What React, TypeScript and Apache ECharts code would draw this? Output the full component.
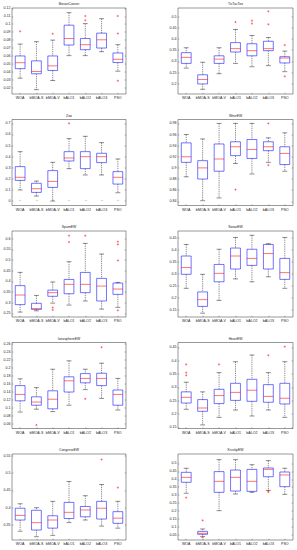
import React, { useEffect, useRef } from "react";
import * as echarts from "echarts";

const categories = ["WOA", "bMOA-S", "bMOA-V", "bALO1", "bALO2", "bALO3", "PSO"];
const titles = ["BreastCancer", "TicTacToe", "Zoo", "WineEW", "SpamEW", "SonarEW", "IonosphereEW", "HeartEW", "CongressEW", "KrvskpEW"];

// boxes: [whiskerLow, q1, median, q3, whiskerHigh] per category
const breastBoxes = [
  [0.032, 0.044, 0.0515, 0.06, 0.075],
  [0.0175, 0.0375, 0.0404, 0.0538, 0.078],
  [0.029, 0.0417, 0.0475, 0.06, 0.08],
  [0.0604, 0.0738, 0.082, 0.0988, 0.1146],
  [0.0604, 0.0679, 0.0742, 0.082, 0.1008],
  [0.0654, 0.07, 0.0804, 0.0888, 0.107],
  [0.0408, 0.0517, 0.0558, 0.0638, 0.0742],
];
const breastOutliers = [[0, 0.091], [2, 0.088], [4, 0.1104], [4, 0.105], [6, 0.1104], [6, 0.0883], [6, 0.0287]];
const breastTicks = [0.02, 0.03, 0.04, 0.05, 0.06, 0.07, 0.08, 0.09, 0.1, 0.11, 0.12];
const breastRange = [0.012, 0.1205];

const ticTacBoxes = [
  [0.27, 0.291, 0.318, 0.339, 0.361],
  [0.175, 0.199, 0.219, 0.24, 0.296],
  [0.245, 0.291, 0.31, 0.325, 0.361],
  [0.291, 0.342, 0.357, 0.384, 0.443],
  [0.276, 0.325, 0.348, 0.379, 0.416],
  [0.281, 0.348, 0.357, 0.39, 0.407],
  [0.254, 0.293, 0.315, 0.321, 0.346],
];
const ticTacOutliers = [[3, 0.476], [4, 0.482], [4, 0.469], [5, 0.524], [5, 0.466], [6, 0.373], [6, 0.233]];
const ticTacTicks = [0.2, 0.25, 0.3, 0.35, 0.4, 0.45, 0.5];
const ticTacRange = [0.154, 0.539];

const zooBoxes = [
  [0.1, 0.186, 0.214, 0.31, 0.445],
  [0.045, 0.078, 0.111, 0.16, 0.18],
  [0.0, 0.123, 0.177, 0.274, 0.349],
  [0.292, 0.361, 0.388, 0.445, 0.562],
  [0.235, 0.292, 0.4, 0.445, 0.583],
  [0.235, 0.346, 0.4, 0.43, 0.526],
  [0.075, 0.153, 0.214, 0.265, 0.379],
];
const zooOutliers = [[3, 0.7]];
const zooTicks = [0, 0.1, 0.2, 0.3, 0.4, 0.5, 0.6, 0.7];
const zooRange = [-0.04, 0.7345];

const wineBoxes = [
  [0.884, 0.91, 0.92, 0.945, 0.96],
  [0.841, 0.88, 0.9, 0.913, 0.952],
  [0.846, 0.894, 0.916, 0.943, 0.98],
  [0.908, 0.922, 0.938, 0.947, 0.98],
  [0.889, 0.917, 0.933, 0.951, 0.98],
  [0.91, 0.931, 0.938, 0.947, 0.954],
  [0.894, 0.906, 0.926, 0.938, 0.963],
];
const wineOutliers = [[3, 0.861], [5, 0.98], [5, 0.905]];
const wineTicks = [0.84, 0.86, 0.88, 0.9, 0.92, 0.94, 0.96, 0.98];
const wineRange = [0.8324, 0.987];

const spamBoxes = [
  [0.256, 0.291, 0.336, 0.38, 0.442],
  [0.262, 0.269, 0.272, 0.297, 0.334],
  [0.298, 0.33, 0.347, 0.359, 0.397],
  [0.289, 0.342, 0.386, 0.409, 0.492],
  [0.308, 0.347, 0.386, 0.442, 0.578],
  [0.27, 0.308, 0.378, 0.414, 0.528],
  [0.278, 0.339, 0.364, 0.392, 0.395],
];
const spamOutliers = [[2, 0.277], [2, 0.266], [3, 0.614], [3, 0.584], [4, 0.614], [6, 0.586], [6, 0.573], [6, 0.498], [6, 0.264]];
const spamTicks = [0.25, 0.3, 0.35, 0.4, 0.45, 0.5, 0.55, 0.6];
const spamRange = [0.233, 0.636];

const sonarBoxes = [
  [0.24, 0.298, 0.326, 0.374, 0.422],
  [0.137, 0.165, 0.193, 0.225, 0.298],
  [0.19, 0.267, 0.302, 0.339, 0.402],
  [0.279, 0.32, 0.374, 0.407, 0.451],
  [0.267, 0.335, 0.364, 0.402, 0.46],
  [0.288, 0.32, 0.384, 0.422, 0.425],
  [0.24, 0.277, 0.305, 0.364, 0.451],
];
const sonarOutliers: number[][] = [];
const sonarTicks = [0.15, 0.2, 0.25, 0.3, 0.35, 0.4, 0.45];
const sonarRange = [0.121, 0.4777];

const ionoBoxes = [
  [0.09, 0.118, 0.134, 0.156, 0.173],
  [0.097, 0.107, 0.115, 0.128, 0.151],
  [0.091, 0.098, 0.122, 0.143, 0.197],
  [0.107, 0.14, 0.168, 0.178, 0.218],
  [0.146, 0.163, 0.174, 0.186, 0.197],
  [0.124, 0.156, 0.174, 0.187, 0.212],
  [0.095, 0.107, 0.134, 0.145, 0.174],
];
const ionoOutliers = [[1, 0.0575], [4, 0.123], [5, 0.252]];
const ionoTicks = [0.06, 0.08, 0.1, 0.12, 0.14, 0.16, 0.18, 0.2, 0.22, 0.24, 0.26];
const ionoRange = [0.0488, 0.2638];

const heartBoxes = [
  [0.2175, 0.241, 0.2625, 0.283, 0.319],
  [0.159, 0.21, 0.2225, 0.254, 0.283],
  [0.1875, 0.239, 0.269, 0.2925, 0.355],
  [0.215, 0.251, 0.281, 0.315, 0.396],
  [0.1925, 0.2475, 0.289, 0.33, 0.421],
  [0.215, 0.244, 0.266, 0.31, 0.355],
  [0.1875, 0.2375, 0.259, 0.315, 0.396],
];
const heartOutliers = [[0, 0.386], [0, 0.355], [0, 0.345], [2, 0.386], [5, 0.42], [6, 0.4525]];
const heartTicks = [0.15, 0.2, 0.25, 0.3, 0.35, 0.4, 0.45];
const heartRange = [0.1456, 0.468];

const congressBoxes = [
  [0.331, 0.3636, 0.377, 0.398, 0.411],
  [0.315, 0.3345, 0.356, 0.392, 0.3995],
  [0.319, 0.34, 0.3636, 0.376, 0.418],
  [0.356, 0.368, 0.386, 0.415, 0.476],
  [0.3636, 0.373, 0.393, 0.403, 0.4345],
  [0.346, 0.3665, 0.398, 0.418, 0.467],
  [0.34, 0.354, 0.369, 0.388, 0.418],
];
const congressOutliers = [[5, 0.54], [6, 0.458]];
const congressTicks = [0.35, 0.4, 0.45, 0.5, 0.55];
const congressRange = [0.3054, 0.556];

const krvskpBoxes = [
  [0.312, 0.381, 0.412, 0.4435, 0.469],
  [0.04, 0.0545, 0.061, 0.073, 0.088],
  [0.203, 0.318, 0.387, 0.448, 0.523],
  [0.3075, 0.326, 0.412, 0.458, 0.523],
  [0.318, 0.324, 0.387, 0.462, 0.4915],
  [0.33, 0.416, 0.462, 0.471, 0.517],
  [0.3055, 0.3536, 0.427, 0.4456, 0.469],
];
const krvskpOutliers = [[0, 0.2845], [1, 0.142], [1, 0.0356], [5, 0.328], [5, 0.32]];
const krvskpTicks = [0.05, 0.1, 0.15, 0.2, 0.25, 0.3, 0.35, 0.4, 0.45, 0.5];
const krvskpRange = [0.0188, 0.5586];

const panels = [
  { boxes: breastBoxes, outliers: breastOutliers, ticks: breastTicks, range: breastRange },
  { boxes: ticTacBoxes, outliers: ticTacOutliers, ticks: ticTacTicks, range: ticTacRange },
  { boxes: zooBoxes, outliers: zooOutliers, ticks: zooTicks, range: zooRange },
  { boxes: wineBoxes, outliers: wineOutliers, ticks: wineTicks, range: wineRange },
  { boxes: spamBoxes, outliers: spamOutliers, ticks: spamTicks, range: spamRange },
  { boxes: sonarBoxes, outliers: sonarOutliers, ticks: sonarTicks, range: sonarRange },
  { boxes: ionoBoxes, outliers: ionoOutliers, ticks: ionoTicks, range: ionoRange },
  { boxes: heartBoxes, outliers: heartOutliers, ticks: heartTicks, range: heartRange },
  { boxes: congressBoxes, outliers: congressOutliers, ticks: congressTicks, range: congressRange },
  { boxes: krvskpBoxes, outliers: krvskpOutliers, ticks: krvskpTicks, range: krvskpRange },
];

const FONT = "Liberation Sans";

function gridRect(k: number) {
  const row = Math.floor(k / 2);
  const col = k % 2;
  const left = col ? 178 : 12;
  const width = col ? 115 : 114;
  const top = 8 + 111.5 * row;
  const height = 86;
  return { left, width, top, height };
}

function boxRender(params: any, api: any) {
  const x = api.value(0);
  const wl = api.coord([x, api.value(1)]);
  const q1 = api.coord([x, api.value(2)]);
  const md = api.coord([x, api.value(3)]);
  const q3 = api.coord([x, api.value(4)]);
  const wh = api.coord([x, api.value(5)]);
  const bw = api.size([1, 0])[0];
  const half = bw * 0.3;
  const cap = bw * 0.15;
  const cx = md[0];
  const dash = { stroke: "#000", lineWidth: 0.45, lineDash: [1.3, 0.9] };
  const solid = { stroke: "#000", lineWidth: 0.45 };
  return {
    type: "group",
    children: [
      { type: "line", shape: { x1: cx, y1: wh[1], x2: cx, y2: q3[1] }, style: dash },
      { type: "line", shape: { x1: cx, y1: q1[1], x2: cx, y2: wl[1] }, style: dash },
      { type: "line", shape: { x1: cx - cap, y1: wh[1], x2: cx + cap, y2: wh[1] }, style: solid },
      { type: "line", shape: { x1: cx - cap, y1: wl[1], x2: cx + cap, y2: wl[1] }, style: solid },
      {
        type: "rect",
        shape: { x: cx - half, y: q3[1], width: half * 2, height: q1[1] - q3[1] },
        style: { fill: "none", stroke: "#0000ff", lineWidth: 0.55 },
      },
      { type: "line", shape: { x1: cx - half, y1: md[1], x2: cx + half, y2: md[1] }, style: { stroke: "#ff0000", lineWidth: 0.55 } },
    ],
  };
}

function outlierRender(params: any, api: any) {
  const p = api.coord([api.value(0), api.value(1)]);
  const s = 1.1;
  const st = { stroke: "#ff0000", lineWidth: 0.45 };
  return {
    type: "group",
    children: [
      { type: "line", shape: { x1: p[0] - s, y1: p[1], x2: p[0] + s, y2: p[1] }, style: st },
      { type: "line", shape: { x1: p[0], y1: p[1] - s, x2: p[0], y2: p[1] + s }, style: st },
    ],
  };
}

const fmt = (v: number) => String(parseFloat(Number(v).toFixed(4)));

export default function App() {
  const ref = useRef<HTMLDivElement>(null);
  useEffect(() => {
    document.body.style.margin = "0";
    if (!ref.current) return;
    const chart = echarts.init(ref.current, null, { renderer: "svg" });
    const grid: any[] = [];
    const xAxis: any[] = [];
    const yAxis: any[] = [];
    const series: any[] = [];
    const graphic: any[] = [];
    panels.forEach((p, k) => {
      const r = gridRect(k);
      grid.push({ ...r, show: true, borderColor: "#333", borderWidth: 0.5, backgroundColor: "transparent" });
      xAxis.push({
        type: "category",
        gridIndex: k,
        data: categories,
        axisLine: { show: false },
        axisTick: { show: true, inside: true, length: 1.2, alignWithLabel: true, lineStyle: { color: "#333", width: 0.4 } },
        axisLabel: { interval: 0, fontSize: 3.6, margin: 2, color: "#222", fontFamily: FONT },
        splitLine: { show: false },
      });
      yAxis.push({
        type: "value",
        gridIndex: k,
        min: p.range[0],
        max: p.range[1],
        axisLine: { show: false },
        axisTick: { show: true, inside: true, length: 1.3, customValues: p.ticks, lineStyle: { color: "#333", width: 0.4 } },
        axisLabel: { customValues: p.ticks, fontSize: 3.6, margin: 1.6, color: "#222", fontFamily: FONT, formatter: fmt },
        splitLine: { show: false },
      });
      yAxis.push({
        type: "value",
        gridIndex: k,
        position: "right",
        min: p.range[0],
        max: p.range[1],
        axisLine: { show: false },
        axisTick: { show: true, inside: true, length: 1.3, customValues: p.ticks, lineStyle: { color: "#333", width: 0.4 } },
        axisLabel: { show: false },
        splitLine: { show: false },
      });
      series.push({
        type: "custom",
        xAxisIndex: k,
        yAxisIndex: 2 * k,
        renderItem: boxRender,
        encode: { x: 0, y: [1, 2, 3, 4, 5] },
        data: p.boxes.map((b, i) => [i, ...b]),
        silent: true,
      });
      series.push({
        type: "custom",
        xAxisIndex: k,
        yAxisIndex: 2 * k,
        renderItem: outlierRender,
        encode: { x: 0, y: 1 },
        data: p.outliers,
        silent: true,
      });
      graphic.push({
        type: "text",
        x: r.left + r.width / 2,
        y: r.top - 3.6,
        style: {
          text: titles[k],
          fontSize: 3.4,
          fontFamily: FONT,
          fill: "#222",
          align: "center",
          verticalAlign: "middle",
          textAlign: "center",
          textVerticalAlign: "middle",
        },
      });
    });
    chart.setOption({ animation: false, backgroundColor: "#fff", grid, xAxis, yAxis, series, graphic });
    return () => chart.dispose();
  }, []);
  return <div ref={ref} style={{ width: 297, height: 550 }} />;
}
